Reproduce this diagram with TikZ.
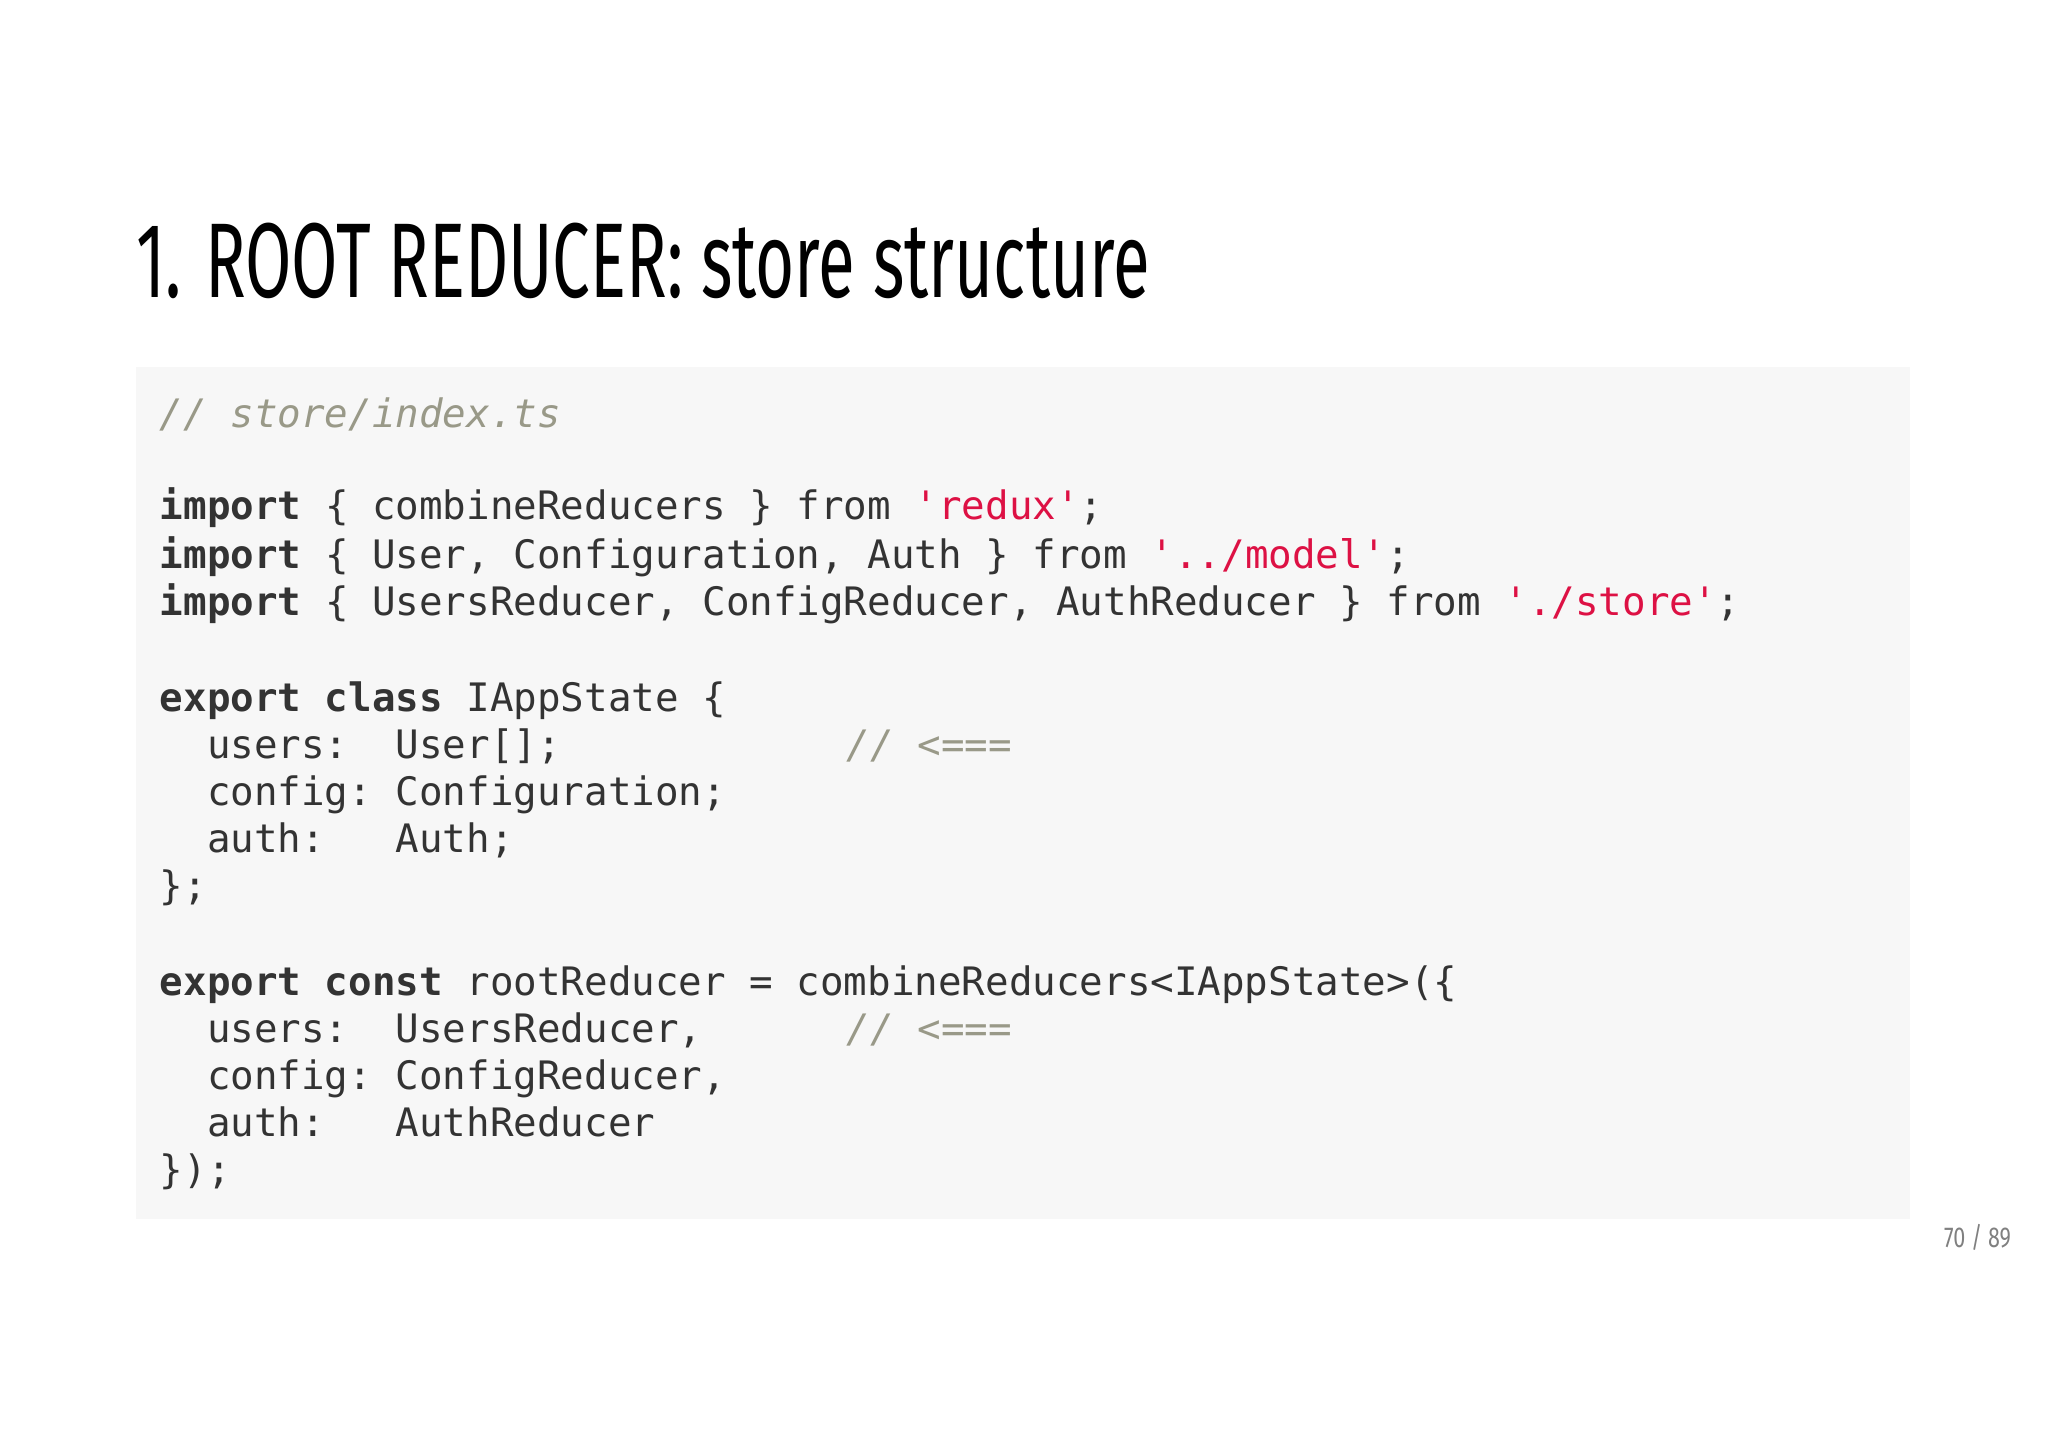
\documentclass[tikz,border=0pt]{standalone}
\usepackage{fontspec}
\setmainfont{Fira Sans}
\newfontfamily\codefont{DejaVu Sans Mono}
\usepackage{graphicx}
\definecolor{codebg}{HTML}{F7F7F7}
\definecolor{codetx}{HTML}{333333}
\definecolor{strc}{HTML}{DD1144}
\definecolor{cmtc}{HTML}{999988}
\newcommand{\kw}[1]{\textbf{#1}}
\newcommand{\st}[1]{\textcolor{strc}{#1}}
\newcommand{\cm}[1]{\textcolor{cmtc}{\itshape #1}}
\begin{document}
\begin{tikzpicture}[x=0.5pt,y=-0.5pt,
  codeline/.style={anchor=base west,inner sep=0pt,font=\codefont\fontsize{15}{18}\selectfont,text=codetx}]
\useasboundingbox (0,0) rectangle (1568,1110);
\fill[white] (0,0) rectangle (1568,1110);
\node[anchor=base west,inner sep=0pt] (title) at (104,228) {\resizebox{388pt}{28.5pt}{\color{black}1. ROOT REDUCER: store structure}};
\fill[codebg] (104,281) rectangle (1462,933);
\node[codeline] (l1) at (122,327) {\cm{//~store/index.ts}};
\node[codeline] (l2) at (122,398) {\kw{import}~\{~combineReducers~\}~from~\st{'redux'};};
\node[codeline] (l3) at (122,435) {\kw{import}~\{~User,~Configuration,~Auth~\}~from~\st{'../model'};};
\node[codeline] (l4) at (122,471) {\kw{import}~\{~UsersReducer,~ConfigReducer,~AuthReducer~\}~from~\st{'./store'};};
\node[codeline] (l5) at (122,545) {\kw{export}~\kw{class}~IAppState~\{};
\node[codeline] (l6) at (122,581) {~~users:~~User[];};
\node[codeline] (c6) at (648,581) {\cm{//~<===}};
\node[codeline] (l7) at (122,617) {~~config:~Configuration;};
\node[codeline] (l8) at (122,653) {~~auth:~~~Auth;};
\node[codeline] (l9) at (122,689) {\};};
\node[codeline] (l10) at (122,762) {\kw{export}~\kw{const}~rootReducer~=~combineReducers<IAppState>(\{};
\node[codeline] (l11) at (122,798) {~~users:~~UsersReducer,};
\node[codeline] (c11) at (648,798) {\cm{//~<===}};
\node[codeline] (l12) at (122,834) {~~config:~ConfigReducer,};
\node[codeline] (l13) at (122,870) {~~auth:~~~AuthReducer};
\node[codeline] (l14) at (122,906) {\});};
\node[anchor=base east,inner sep=0pt,text=gray,font=\fontsize{11}{13}\selectfont] (pg) at (1540,955) {\scalebox{0.75}[1]{70 / 89}};
\end{tikzpicture}
\end{document}
